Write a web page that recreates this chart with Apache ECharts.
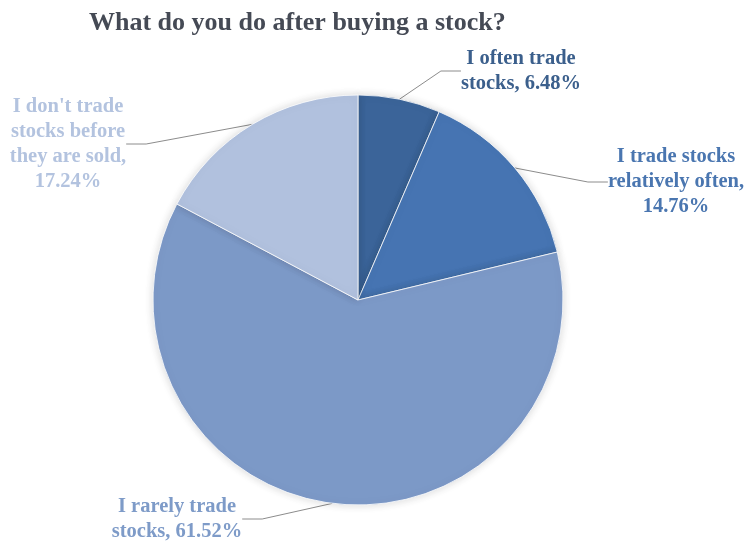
<!DOCTYPE html>
<html>
<head>
<meta charset="utf-8">
<script src="https://cdn.jsdelivr.net/npm/echarts@6/dist/echarts.min.js"></script>
<style>
  html, body { margin: 0; padding: 0; background: #ffffff; }
  #chart { width: 751px; height: 542px; }
</style>
</head>
<body>
<div id="chart"></div>
<script>
// Survey answers, clockwise from 12 o'clock
const categories = [
  'I often trade\nstocks',
  'I trade stocks\nrelatively often',
  'I rarely trade\nstocks',
  "I don't trade\nstocks before\nthey are sold"
];
const shares = [6.48, 14.76, 61.52, 17.24];
// Whether the percentage goes on its own line under the answer text
const valueOnOwnLine = [false, true, false, true];

const sliceColors = ['#3b6499', '#4674b2', '#7c99c7', '#b1c1de'];
const labelColors = ['#3b5f8c', '#4a76b0', '#7e9bc8', '#b3c3df'];

// Where each callout text block is centred
const labelAnchors = [
  [521, 71],
  [676, 182],
  [177, 519],
  [68, 144]
];

const chart = echarts.init(document.getElementById('chart'));

chart.setOption({
  animation: false,
  backgroundColor: '#ffffff',
  title: {
    text: 'What do you do after buying a stock?',
    left: 84,
    top: 5,
    textStyle: {
      fontFamily: 'Liberation Serif',
      fontWeight: 'bold',
      fontSize: 26,
      color: '#454a55'
    }
  },
  series: [{
    type: 'pie',
    center: [358, 300],
    radius: 205,
    startAngle: 90,
    clockwise: true,
    avoidLabelOverlap: false,
    itemStyle: {
      borderColor: '#ffffff',
      borderWidth: 0.8,
      shadowColor: 'rgba(0,0,0,0.16)',
      shadowBlur: 8
    },
    label: {
      show: true,
      position: 'outside',
      fontFamily: 'Liberation Serif',
      fontWeight: 'bold',
      fontSize: 20.5,
      lineHeight: 25,
      align: 'center',
      formatter: p => p.name + ',' + (valueOnOwnLine[p.dataIndex] ? '\n' : ' ') +
        p.value.toFixed(2) + '%'
    },
    labelLine: {
      show: true,
      length: 20,
      length2: 20,
      lineStyle: { color: '#8c8c8c', width: 1 }
    },
    labelLayout: params => {
      const a = labelAnchors[params.dataIndex];
      return { x: a[0], y: a[1], align: 'center', verticalAlign: 'middle' };
    },
    data: shares.map((v, i) => ({
      name: categories[i],
      value: v,
      itemStyle: { color: sliceColors[i] },
      label: { color: labelColors[i] }
    }))
  }]
});
</script>
</body>
</html>
